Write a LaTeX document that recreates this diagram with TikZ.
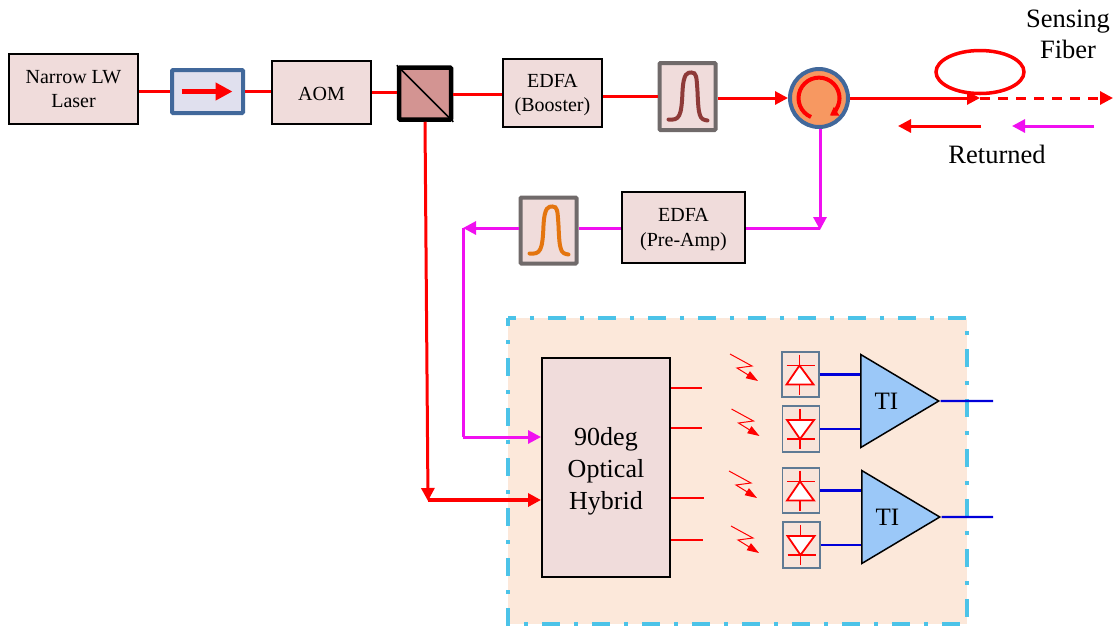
\documentclass[tikz,border=0pt]{standalone}
\usepackage{fontspec}
\setmainfont{Liberation Serif}
\usetikzlibrary{arrows.meta,shapes.geometric}
\definecolor{boxpink}{HTML}{F0DCDB}
\definecolor{bspink}{HTML}{D39492}
\definecolor{isofill}{HTML}{E0E0EE}
\definecolor{steel}{HTML}{41689B}
\definecolor{filtergray}{HTML}{706A6A}
\definecolor{pulsered}{HTML}{8E3A38}
\definecolor{pulseorange}{HTML}{E4750F}
\definecolor{circfill}{HTML}{F79861}
\definecolor{peach}{HTML}{FCE8DA}
\definecolor{dashblue}{HTML}{4CC3E8}
\definecolor{tiablue}{HTML}{9BC8F8}
\definecolor{detgray}{HTML}{5F7A94}
\definecolor{mag}{HTML}{F010F0}
\tikzset{
  block/.style={draw=black,line width=2pt,fill=boxpink,inner sep=0pt,align=center,
    font=\fontsize{20}{24.5}\selectfont},
  filterbox/.style={draw=filtergray,line width=4pt,fill=boxpink,rounded corners=1pt,
    minimum width=56pt,minimum height=67pt},
  detbox/.style={draw=detgray,line width=1.3pt,fill=peach!70!boxpink,minimum width=37pt,minimum height=45pt},
  tia/.style={draw=black,line width=1.5pt,fill=tiablue,isosceles triangle,isosceles triangle stretches,
    minimum width=93pt,minimum height=78pt,inner sep=0pt,anchor=west,
    font=\fontsize{25}{30}\selectfont},
  panelline/.style={draw=dashblue,line width=3.5pt,dash pattern=on 18pt off 14pt on 4pt off 14pt,dash phase=10pt},
  label/.style={font=\fontsize{26.5}{31}\selectfont,align=center},
  redline/.style={draw=red,line width=3pt},
  magline/.style={draw=mag,line width=3pt},
  blueline/.style={draw=blue!85!black,line width=2.4pt},
  tip/.style={-{Triangle[length=13pt,width=13pt]}},
  pics/pulse/.style={code={
    \draw[line width=4pt,line cap=round,#1] (-19,23) .. controls (-8,24) and (-6,20) .. (-5,-5)
      .. controls (-4,-24) and (0,-24) .. (4,-24) .. controls (9,-24) and (9,-20) .. (10,-5)
      .. controls (11,20) and (12,23) .. (20,24);}},
  pics/diodeup/.style={code={
    \draw[red,line width=1.8pt] (-1,-20) -- (-1,20) (-14,-9) -- (14,-9);
    \draw[red,line width=1.8pt,fill=white] (-1,-9) -- (13,10) -- (-14,10) -- cycle;}},
  pics/diodedown/.style={code={
    \draw[red,line width=1.8pt] (-1,-20) -- (-1,20) (-14,10) -- (14,10);
    \draw[red,line width=1.8pt,fill=white] (-1,10) -- (13,-9) -- (-14,-9) -- cycle;}},
  pics/photons/.style={code={
    \draw[red,line width=1pt,-{Triangle[length=12pt,width=8pt]}] (0,0) -- (22,12) -- (7,14) -- (28,27);}},
}
\begin{document}
\begin{tikzpicture}[x=1pt,y=-1pt]
  \useasboundingbox (0,0) rectangle (1117,625);
  % receiver panel
  \fill[peach] (508,318) rectangle (967,624);
  \draw[panelline] (508,318) -- (967,318) -- (967,624);
  \draw[panelline] (508,318) -- (508,624) -- (967,624);
  % blocks along the top
  \node[block,minimum width=129pt,minimum height=70pt] (laser) at (73.5,89) {Narrow LW\\Laser};
  \node[draw=steel,line width=4pt,fill=isofill,rounded corners=1pt,minimum width=71pt,minimum height=43pt] (isolator) at (207.5,91.5) {};
  \node[block,minimum width=99pt,minimum height=63pt,text height=17pt] (aom) at (321.5,92.5) {AOM};
  \node[draw=black,line width=4.5pt,fill=bspink,rounded corners=1pt,minimum width=52pt,minimum height=52pt] (splitter) at (425,93.5) {};
  \node[block,minimum width=99pt,minimum height=68pt,text height=41.5pt] (booster) at (552.5,93) {EDFA\\(Booster)};
  \node[filterbox] (filterone) at (687.5,96.5) {};
  \node[circle,draw=steel,line width=4pt,fill=circfill,minimum size=58pt,inner sep=0pt] (circulator) at (819,98) {};
  \node[ellipse,draw=red,line width=3.5pt,minimum width=88pt,minimum height=43pt,inner sep=0pt] (loop) at (980,72) {};
  \node[label] (sensing) at (1068,34) {Sensing\\Fiber};
  \node[label] (returned) at (997,154) {Returned};
  % blocks of the return path
  \node[block,minimum width=123pt,minimum height=71pt,text height=41.5pt] (preamp) at (683.5,227.5) {EDFA\\(Pre-Amp)};
  \node[filterbox,minimum height=66pt] (filtertwo) at (548.5,230.5) {};
  \node[draw=black,line width=2pt,fill=boxpink,minimum width=128pt,minimum height=219pt,inner sep=0pt,align=center,
    font=\fontsize{26}{32}\selectfont,text height=89.5pt] (hybrid) at (606,467.5) {90deg\\Optical\\Hybrid};
  % detectors and amplifiers
  \node[detbox] (detone) at (800.5,374.5) {};
  \node[detbox,minimum height=46pt] (dettwo) at (801,429) {};
  \node[detbox] (detthree) at (801,490.5) {};
  \node[detbox,minimum height=46pt] (detfour) at (801.5,545) {};
  \node[tia] (tiaone) at (860,401) {TI};
  \node[tia] (tiatwo) at (861,517) {TI};
  \path (detone) pic {diodeup};
  \path (dettwo) pic {diodedown};
  \path (detthree) pic {diodeup};
  \path (detfour) pic {diodedown};
  \path (filterone) pic {pulse=pulsered};
  \path (filtertwo) pic {pulse=pulseorange};
  \path (730,354) pic {photons};
  \path (731.5,409) pic {photons};
  \path (729,471) pic {photons};
  \path (731,526) pic {photons};
  % free ends
  \coordinate (fibermid) at (980,98);
  \coordinate (fiberend) at (1113,98);
  \coordinate (retredstart) at (981,126);
  \coordinate (retredend) at (898,126);
  \coordinate (retmagstart) at (1094,126);
  \coordinate (retmagend) at (1012,126);
  \coordinate (corner) at (820,228);
  \coordinate (magleft) at (463,228);
  \coordinate (magdown) at (463,437);
  \coordinate (reddown) at (428,500);
  \coordinate (outa) at (702,388);
  \coordinate (outb) at (702,428);
  \coordinate (outc) at (704,498);
  \coordinate (outd) at (703,540);
  \coordinate (tiaoutone) at (993,401);
  \coordinate (tiaouttwo) at (993,517);
  % top line
  \begin{scope}[redline]
    \draw (laser.east |- isolator) -- (isolator.west);
    \draw (isolator.east) -- (isolator.east -| aom.west);
    \draw (aom.east) -- (aom.east -| splitter.west);
    \draw ([yshift=-1pt]splitter.east) -- ([yshift=-1pt]splitter.east -| booster.west);
    \draw (booster.east |- filterone) -- (filterone.west);
    \draw[tip] (filterone.east |- circulator) -- (circulator.west);
    \draw[tip] (circulator.east) -- (fibermid);
    \draw[dash pattern=on 10pt off 8pt,tip] (fibermid) -- (fiberend);
    \draw[tip] (retredstart) -- (retredend);
    \draw[tip] (splitter.south) -- ([yshift=-1pt]reddown);
    \draw[line width=4pt,tip] (reddown) -- (reddown -| hybrid.west);
  \end{scope}
  \draw[magline,tip] (retmagstart) -- (retmagend);
  % return line
  \begin{scope}[magline]
    \draw[tip] (circulator.south -| corner) -- ([yshift=-2pt]corner);
    \draw (corner) -- (corner -| preamp.east);
    \draw (preamp.west |- corner) -- (filtertwo.east |- corner);
    \draw[tip] (filtertwo.west |- corner) -- (magleft);
    \draw (magleft) -- (magdown);
    \draw[tip] (magdown) -- (magdown -| hybrid.west);
  \end{scope}
  % hybrid outputs
  \begin{scope}[draw=red,line width=1.8pt]
    \draw (hybrid.east |- outa) -- (outa);
    \draw (hybrid.east |- outb) -- (outb);
    \draw (hybrid.east |- outc) -- (outc);
    \draw (hybrid.east |- outd) -- (outd);
  \end{scope}
  % electrical lines
  \begin{scope}[blueline]
    \draw (detone.east) -- (detone.east -| tiaone.west);
    \draw (dettwo.east) -- (dettwo.east -| tiaone.west);
    \draw (detthree.east) -- (detthree.east -| tiatwo.west);
    \draw (detfour.east) -- (detfour.east -| tiatwo.west);
    \draw (tiaone.east) -- (tiaoutone);
    \draw (tiatwo.east) -- (tiaouttwo);
  \end{scope}
  % marks inside the parts
  \draw[red,-{Triangle[length=17pt,width=17pt]},line width=5pt] ([xshift=-26pt]isolator.center) -- ([xshift=25pt]isolator.center);
  \draw[black,line width=1.5pt] (splitter.north west) -- (splitter.south east);
  \draw[red,line width=4pt,-{Triangle[length=8pt,width=10pt]}] ([shift={(-8,19)}]circulator.center) arc[start angle=247,end angle=-58,radius=20.5pt];
\end{tikzpicture}
\end{document}
